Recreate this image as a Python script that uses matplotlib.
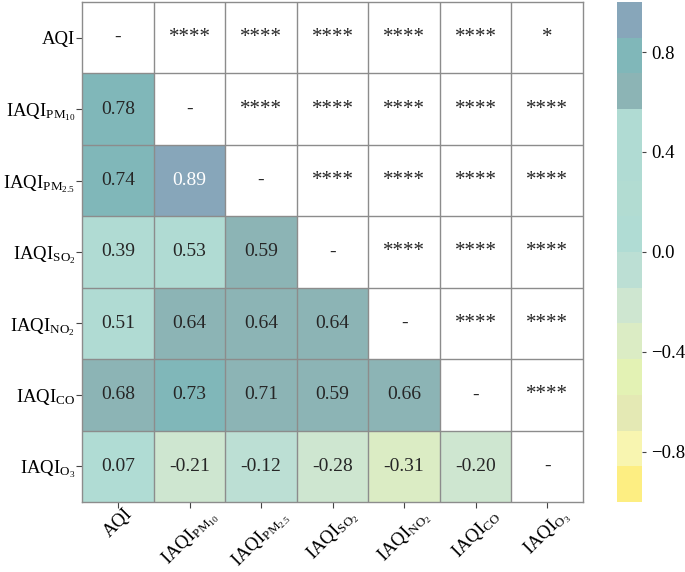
"""Correlation heatmap of AQI vs. the individual IAQI sub-indices.
Lower triangle: Pearson r (coloured), upper triangle: significance stars, diagonal: '-'.
"""
import matplotlib
matplotlib.use("Agg")
import matplotlib.pyplot as plt
import numpy as np
from matplotlib.colors import ListedColormap, BoundaryNorm, to_rgb

plt.rcParams["font.family"] = ["Liberation Serif", "DejaVu Serif"]
plt.rcParams["mathtext.fontset"] = "custom"
plt.rcParams["mathtext.rm"] = "Liberation Serif"
plt.rcParams["mathtext.it"] = "Liberation Serif:italic"

# --- data ---------------------------------------------------------------------------
LABELS = ["AQI", r"IAQI$_{\mathrm{PM}_{10}}$", r"IAQI$_{\mathrm{PM}_{2.5}}$",
          r"IAQI$_{\mathrm{SO}_{2}}$", r"IAQI$_{\mathrm{NO}_{2}}$",
          r"IAQI$_{\mathrm{CO}}$", r"IAQI$_{\mathrm{O}_{3}}$"]

# lower triangle, row by row (row i has i values)
R_PM10 = [0.78]
R_PM25 = [0.74, 0.89]
R_SO2 = [0.39, 0.53, 0.59]
R_NO2 = [0.51, 0.64, 0.64, 0.64]
R_CO = [0.68, 0.73, 0.71, 0.59, 0.66]
R_O3 = [0.07, -0.21, -0.12, -0.28, -0.31, -0.20]
LOWER = [[], R_PM10, R_PM25, R_SO2, R_NO2, R_CO, R_O3]

# upper triangle significance, row by row (row i has 6-i entries)
SIG = [["****", "****", "****", "****", "****", "*"],
       ["****", "****", "****", "****", "****"],
       ["****", "****", "****", "****"],
       ["****", "****", "****"],
       ["****", "****"],
       ["****"],
       []]

# 14 discrete colours, -1 (bottom) -> +1 (top)
COLORS = ["#fdee82", "#f8f5b0", "#e4e9b4", "#e3f2b4", "#dbecc4", "#cee6d0", "#bcdfd4",
          "#b0dcd4", "#b2dcd2", "#b0dbd3", "#b0dbd3", "#8cb4b5", "#80b7b9", "#87a6ba"]

n = len(LABELS)
M = np.full((n, n), np.nan)
for i, row in enumerate(LOWER):
    for j, v in enumerate(row):
        M[i, j] = v

cmap = ListedColormap(COLORS)
norm = BoundaryNorm(np.linspace(-1, 1, len(COLORS) + 1), cmap.N)


def _text_color(rgb):
    lin = [c / 12.92 if c <= 0.03928 else ((c + 0.055) / 1.055) ** 2.4 for c in rgb]
    lum = 0.2126 * lin[0] + 0.7152 * lin[1] + 0.0722 * lin[2]
    return "white" if lum < 0.408 else "#262626"


fig = plt.figure(figsize=(6.85, 5.72), dpi=100)
ax = fig.add_axes([0.120, 0.1224, 0.731, 0.8741])
cax = fig.add_axes([0.901, 0.1224, 0.036, 0.8741])

mesh = ax.pcolormesh(np.ma.masked_invalid(M), cmap=cmap, norm=norm)
GRID = "#8c8c8c"
ax.hlines(np.arange(1, n), 0, n, color=GRID, lw=1.0)
ax.vlines(np.arange(1, n), 0, n, color=GRID, lw=1.0)
for s in ax.spines.values():
    s.set_color(GRID); s.set_linewidth(1.0)
ax.set_xlim(0, n); ax.set_ylim(n, 0)

for i in range(n):
    for j in range(n):
        if i > j:
            v = M[i, j]
            ax.text(j + 0.5, i + 0.5, f"{v:.2f}", ha="center", va="center", fontsize=14,
                    color=_text_color(to_rgb(cmap(norm(v)))))
        elif i == j:
            ax.text(j + 0.5, i + 0.5, "-", ha="center", va="center", fontsize=14, color="#262626")
        else:
            ax.text(j + 0.5, i + 0.5, SIG[i][j - i - 1], ha="center", va="center",
                    fontsize=15, color="#262626")

ax.set_xticks(np.arange(n) + 0.5)
ax.set_yticks(np.arange(n) + 0.5)
ax.set_xticklabels(LABELS, rotation=45, fontsize=13.5)
ax.set_yticklabels(LABELS, fontsize=13.5)
ax.tick_params(axis="y", length=4, width=0.8, color="#444444", pad=1)
ax.tick_params(axis="x", length=4, width=0.8, color="#444444", pad=-1.5)

cb = fig.colorbar(mesh, cax=cax)
cb.outline.set_visible(False)
cb.set_ticks([-0.8, -0.4, 0.0, 0.4, 0.8])
cb.ax.minorticks_off()
cb.ax.tick_params(labelsize=13.5, length=3, width=0.8, color="#444444")

fig.savefig("out.png", dpi=100)
